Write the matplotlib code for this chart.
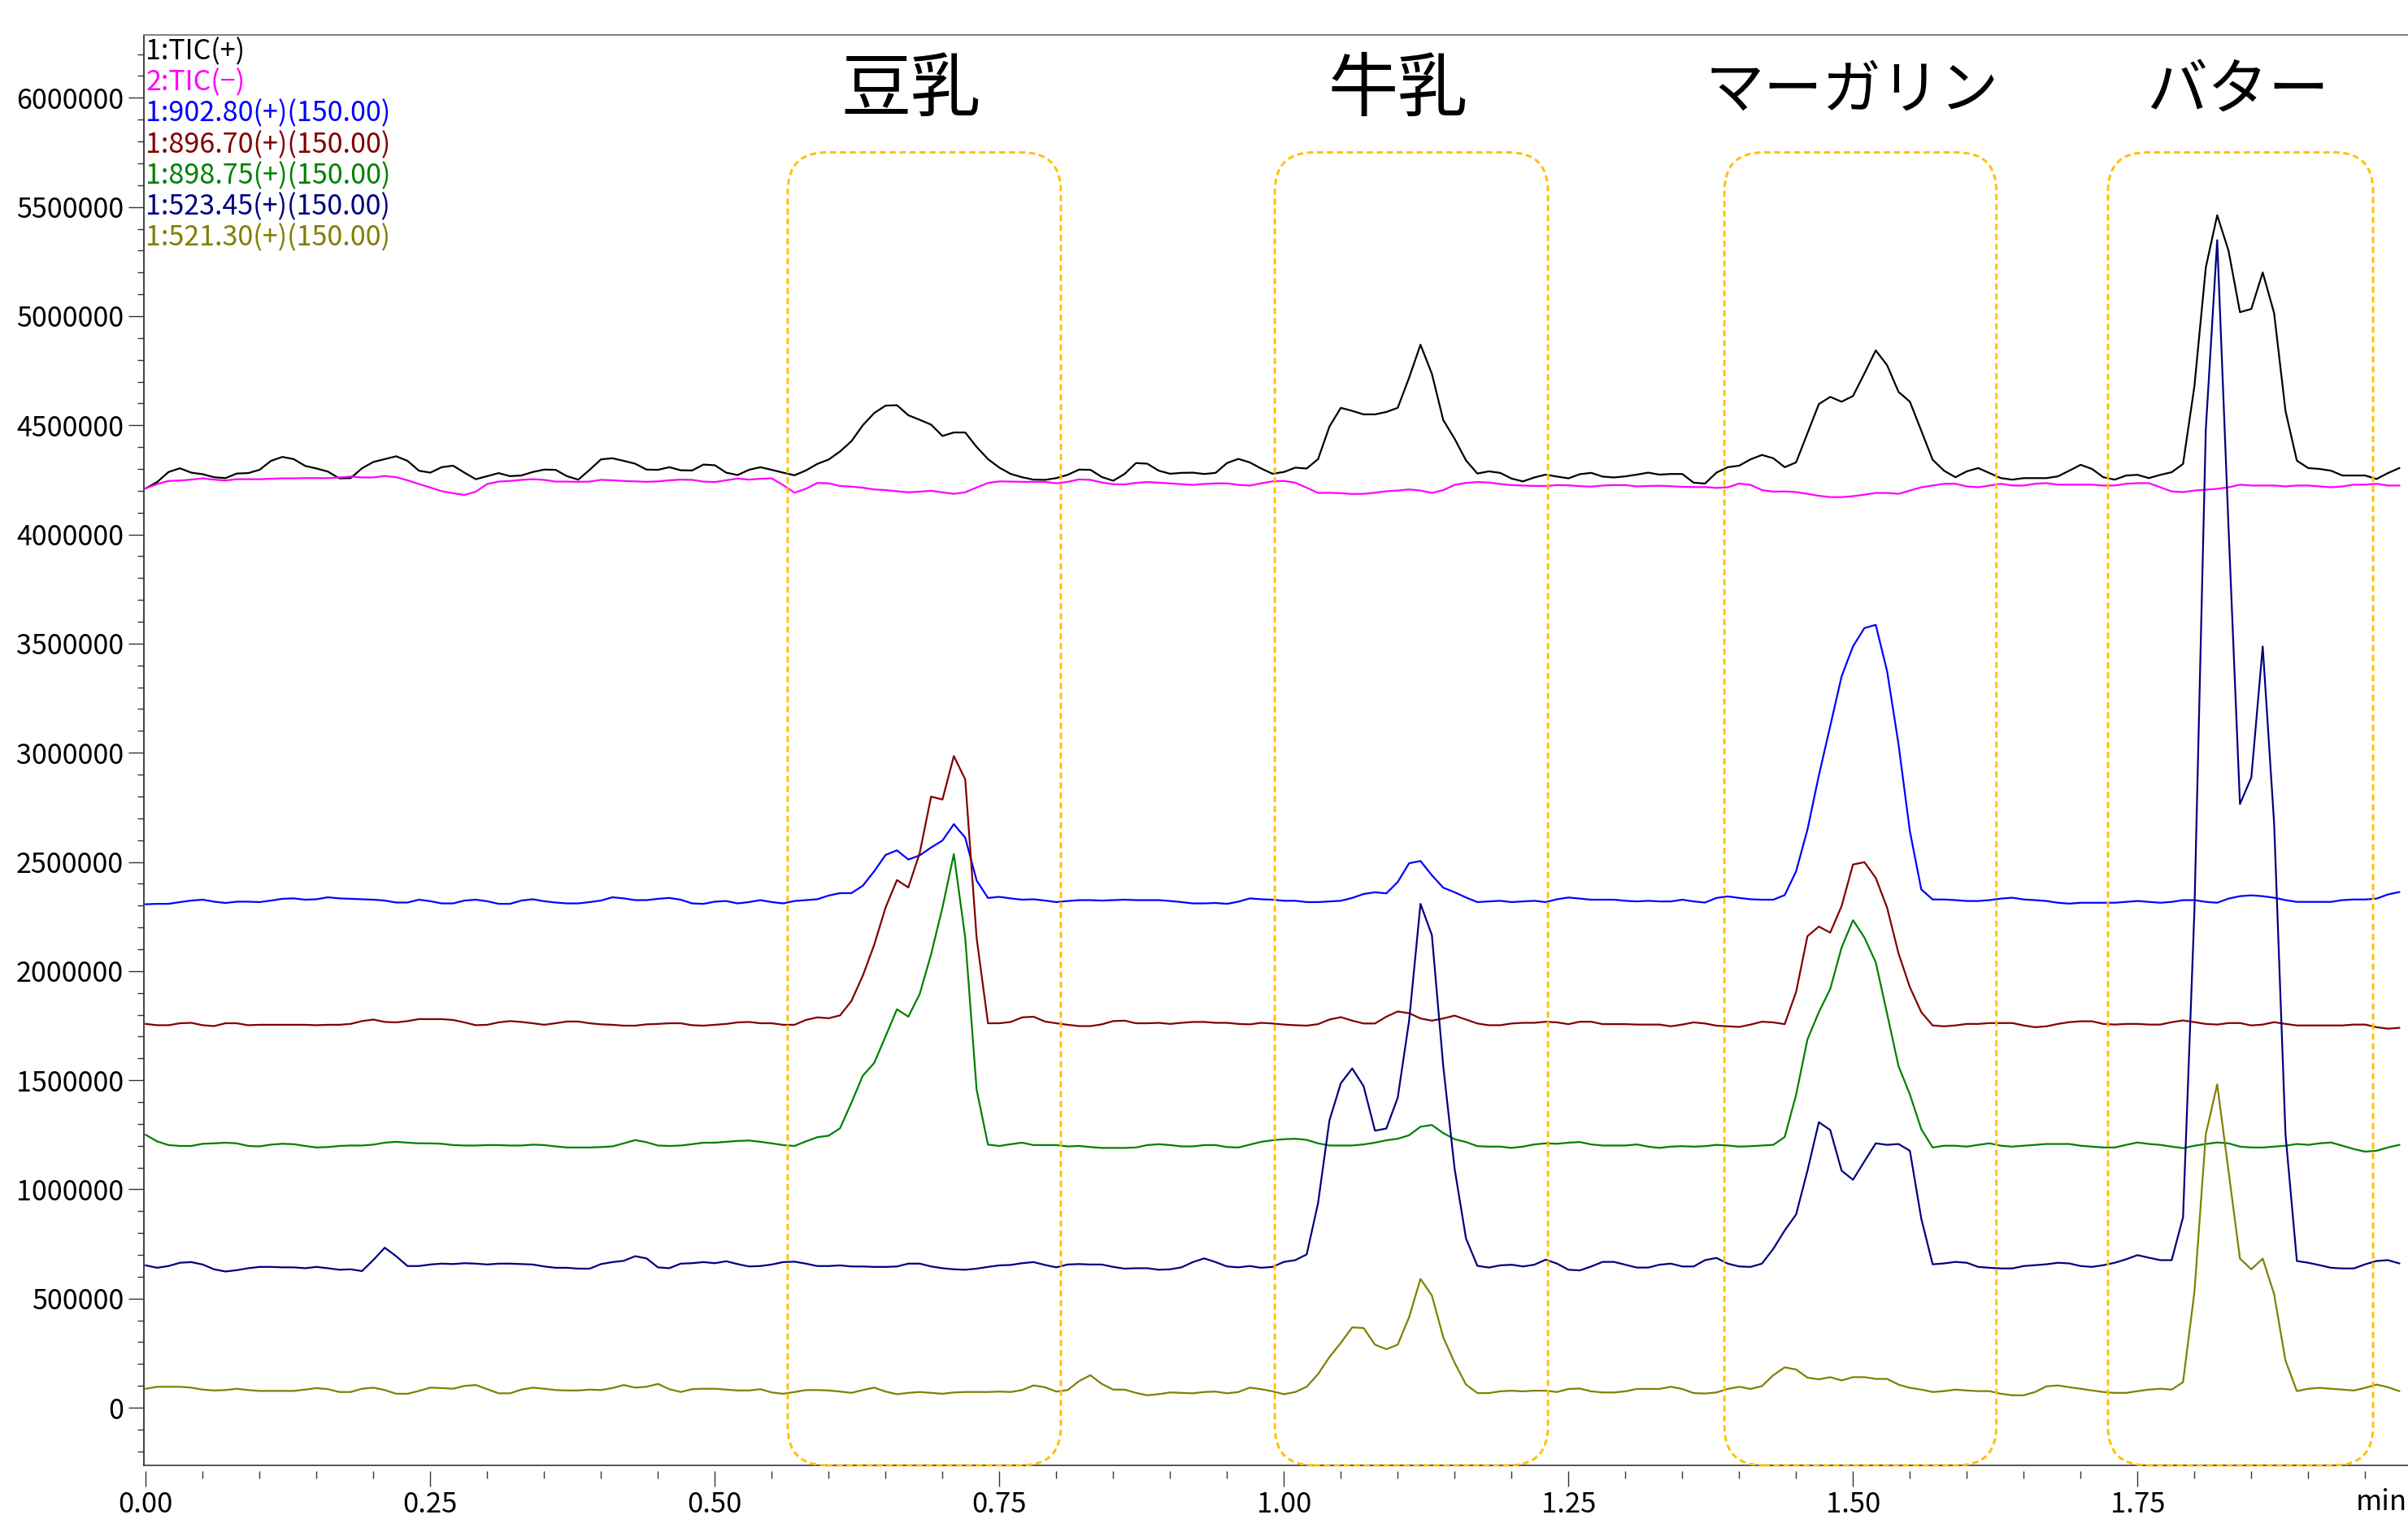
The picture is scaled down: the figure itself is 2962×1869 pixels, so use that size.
import numpy as np
import matplotlib
matplotlib.use("Agg")
import matplotlib.pyplot as plt
import matplotlib.transforms as mtransforms
from matplotlib.patches import FancyBboxPatch
from matplotlib.ticker import MultipleLocator, FormatStrFormatter

plt.rcParams['font.family'] = ['Noto Sans CJK JP', 'DejaVu Sans']

# one scan every 0.01 min
rt = np.arange(199) * 0.01

# intensities, in thousands
tic_pos = [4211,4240,4286,4303,4283,4276,4262,4258,4279,4281,4296,4337,4355,4345,4314,4302,4288,4257,4258,4303,
           4332,4345,4358,4337,4292,4283,4308,4315,4283,4253,4267,4281,4267,4270,4286,4297,4296,4267,4251,4296,
           4344,4349,4337,4324,4297,4296,4308,4294,4293,4320,4317,4283,4272,4296,4308,4296,4283,4271,4293,4323,
           4343,4380,4427,4500,4556,4590,
           4592,4546,4525,4503,4451,4467,4467,4401,4345,4306,4277,4262,4251,4250,4258,4273,4297,4296,4263,4246,
           4277,4327,4324,4292,4278,4282,4283,4277,4282,4327,4346,4330,4302,4278,4286,4306,4302,4345,4494,4580,
           4566,4550,4550,4561,4580,4718,4869,4736,4524,4438,4339,4279,4289,4282,4256,4243,4261,4274,4265,4257,
           4276,4282,4265,4261,4266,4274,
           4283,4274,4277,4277,4237,4233,4283,4308,4315,4344,4364,4349,4308,4330,4463,4597,
           4630,4608,4634,4737,4843,4775,4653,4608,4475,4342,4292,4262,4289,4304,4281,4258,4251,4258,4258,4258,
           4266,4292,4319,4300,4262,4251,4270,4273,4258,4273,4285,4323,4680,5223,5462,5299,5018,5033,5200,5014,
           4566,4338,4304,4300,4292,4270,4270,4270,4254,4281,4304]

tic_neg = [4211,4231,4245,4247,4251,4257,4251,4247,4253,4253,4253,4255,4257,4257,4258,4258,4258,4261,4265,4261,
           4261,4268,4262,4248,4231,4215,4198,4189,4181,4196,4231,4242,4245,4250,4253,4250,4242,4242,4241,4242,
           4250,4248,4245,4243,4241,4243,4248,4251,4250,4242,4240,4248,4256,4251,4255,4257,4226,4191,4209,4236,
           4234,4222,4219,4214,4206,4203,
           4198,4193,4196,4200,4193,4186,4193,4215,4236,4243,4242,4241,4241,4241,4234,4241,4252,4250,4238,4230,
           4229,4236,4240,4237,4234,4230,4227,4231,4234,4234,4227,4224,4234,4243,4245,4237,4214,4190,4191,4189,
           4185,4186,4191,4198,4201,4206,4201,4190,4203,4227,4236,4240,4238,4231,4226,4224,4222,4222,4226,4225,
           4221,4219,4224,4226,4226,4220,
           4222,4223,4221,4218,4217,4217,4213,4216,4233,4227,4203,4196,4197,4194,4186,4177,
           4171,4171,4175,4182,4190,4190,4186,4201,4216,4224,4232,4232,4220,4216,4224,4232,4224,4224,4232,4235,
           4228,4228,4228,4228,4224,4224,4232,4235,4235,4216,4197,4194,4201,4205,4209,4216,4228,4224,4224,4224,
           4220,4224,4224,4220,4216,4220,4228,4228,4232,4224,4224]

mz_902 = [2306,2308,2308,2316,2323,2327,2318,2312,2318,2318,2316,2323,2331,2333,2327,2329,2338,2333,2331,2329,
          2327,2323,2314,2314,2327,2320,2310,2310,2323,2327,2320,2308,2308,2323,2329,2320,2314,2310,2310,2316,
          2323,2338,2333,2325,2325,2331,2335,2327,2310,2308,
          2318,2321,2310,2316,2325,2316,2310,2321,2325,2329,2346,2357,2357,2391,2457,2532,2553,2511,2530,2566,
          2598,2673,2611,2415,2335,2340,2333,2327,2329,2323,2316,2321,2325,2325,2323,2325,2327,2325,2325,2325,
          2321,2316,2310,2310,2312,2308,2318,2333,2329,
          2327,2322,2322,2316,2316,2319,2322,2335,2353,2361,2356,2408,2494,2504,2439,2382,2361,2337,2316,2319,
          2322,2316,2319,2322,2316,2329,2337,2332,2327,2327,2327,2322,2319,2322,2319,2319,2327,2319,2314,2335,
          2342,2335,2329,2327,2327,2348,2457,2648,2896,
          3122,3350,3487,3571,3586,3373,3039,2640,2374,2328,2328,2325,2321,2321,2325,2332,2336,2328,2325,2321,
          2313,2309,2313,2313,2313,2313,2317,2321,2317,2313,2317,2325,2325,2317,2313,2332,2343,2347,2343,2336,
          2325,2317,2317,2317,2317,2325,2328,2328,2332,2351,2362]

mz_896 = [1758,1752,1752,1761,1763,1752,1748,1761,1761,1752,1754,1754,1754,1754,1754,1752,1754,1754,1758,1771,
          1778,1767,1765,1771,1780,1780,1780,1776,1765,1752,1754,1765,1771,1767,1761,1754,1761,1769,1769,1761,
          1756,1754,1750,1750,1756,1758,1761,1761,1752,1750,
          1754,1758,1765,1767,1761,1761,1754,1754,1776,1788,1784,1797,1863,1979,2120,2291,2417,2383,2541,2799,
          2786,2985,2878,2152,1761,1761,1767,1788,1791,1769,1761,1754,1748,1748,1756,1771,1773,1761,1761,1763,
          1758,1763,1767,1767,1763,1763,1758,1756,1763,
          1760,1755,1752,1750,1757,1778,1789,1773,1760,1760,1791,1815,1807,1783,1773,1783,1796,1778,1760,1752,
          1752,1760,1763,1763,1768,1765,1757,1768,1768,1757,1757,1757,1755,1755,1755,1747,1755,1765,1760,1750,
          1747,1744,1755,1768,1765,1757,1904,2160,2204,
          2176,2298,2488,2499,2427,2290,2081,1926,1812,1751,1747,1751,1758,1758,1762,1762,1762,1751,1743,1747,
          1758,1766,1770,1770,1758,1755,1758,1758,1755,1755,1766,1774,1766,1758,1755,1762,1762,1751,1755,1766,
          1758,1751,1751,1751,1751,1751,1755,1755,1743,1736,1740]

mz_898 = [1250,1220,1203,1199,1199,1209,1211,1214,1211,1199,1197,1205,1209,1207,1199,1192,1194,1199,1201,1201,
          1205,1214,1218,1214,1211,1211,1209,1203,1201,1201,1203,1203,1201,1201,1205,1203,1197,1192,1192,1192,
          1194,1197,1211,1226,1216,1201,1199,1201,1207,1214,
          1214,1218,1222,1224,1218,1211,1203,1199,1220,1239,1246,1280,1397,1521,1579,1701,1825,1791,1895,2077,
          2291,2536,2152,1457,1205,1199,1207,1214,1203,1203,1203,1197,1199,1194,1190,1190,1190,1192,1203,1207,
          1203,1197,1197,1203,1203,1194,1192,1205,1218,
          1225,1230,1232,1227,1211,1201,1201,1201,1206,1214,1225,1232,1248,1287,1295,1258,1230,1217,1198,1196,
          1196,1190,1196,1206,1211,1209,1214,1217,1206,1201,1201,1201,1206,1196,1190,1196,1198,1196,1198,1204,
          1201,1196,1198,1201,1204,1240,1433,1687,1812,
          1918,2108,2233,2154,2040,1804,1565,1435,1276,1192,1200,1200,1196,1204,1211,1200,1196,1200,1204,1208,
          1208,1208,1200,1196,1192,1192,1204,1215,1208,1204,1196,1189,1200,1208,1215,1211,1196,1192,1192,1196,
          1200,1208,1204,1211,1215,1200,1185,1173,1177,1192,1204]

mz_523 = [652,641,649,664,667,656,634,624,630,639,645,645,643,643,639,645,639,632,634,626,
          677,733,694,649,649,656,660,658,662,660,656,660,660,658,656,647,641,641,637,637,
          658,667,673,694,684,643,639,660,662,667,
          662,671,658,647,649,656,667,669,660,649,649,652,647,647,645,645,647,660,660,647,
          639,634,632,637,645,652,654,662,667,654,643,656,658,656,656,645,637,639,639,632,
          634,643,667,684,667,647,643,649,641,
          645,668,676,702,937,1316,1486,1554,1473,1269,1279,1420,1773,2308,2165,1564,1094,775,650,642,
          652,655,647,655,678,660,632,629,647,668,668,655,642,642,655,660,647,647,676,686,
          660,647,645,660,728,812,885,1086,1308,
          1272,1086,1044,1128,1211,1204,1208,1177,866,657,661,668,664,645,641,638,638,649,653,657,
          664,661,649,645,653,664,680,699,687,676,676,873,2279,4482,5348,4026,2765,2887,3487,2678,
          1253,672,664,653,641,638,638,657,672,676,661]

mz_521 = [87,96,96,96,92,83,79,81,87,81,77,77,77,77,83,90,85,72,72,87,
          92,81,64,64,77,92,90,87,100,104,85,66,66,83,92,87,81,79,79,83,
          81,90,104,92,96,109,85,72,85,87,
          87,83,79,79,85,70,64,72,81,81,79,74,68,81,92,74,62,68,72,68,
          64,70,72,72,72,74,72,81,102,94,74,81,122,149,109,83,83,68,57,62,
          70,68,66,72,74,66,72,92,85,
          75,62,72,96,154,232,297,368,365,289,268,289,415,590,514,323,206,106,67,67,
          75,78,75,78,78,72,86,88,75,70,70,75,86,86,86,96,86,67,65,70,
          86,96,86,99,149,185,175,138,130,
          140,125,140,140,132,132,106,91,83,72,76,83,79,76,76,64,57,57,72,98,
          102,94,87,79,72,68,68,76,83,87,83,117,531,1253,1481,1082,683,634,683,520,
          216,76,87,91,87,83,79,91,106,94,76]

trace_names = ["1:TIC(+)", "2:TIC(\u2212)", "1:902.80(+)(150.00)", "1:896.70(+)(150.00)",
               "1:898.75(+)(150.00)", "1:523.45(+)(150.00)", "1:521.30(+)(150.00)"]
trace_colors = ["#000000", "#ff00ff", "#0000ff", "#800000", "#008000", "#000080", "#808000"]
traces = [tic_pos, tic_neg, mz_902, mz_896, mz_898, mz_523, mz_521]

# sample windows (min) and their titles
samples = ["豆乳", "牛乳", "マーガリン", "バター"]
win_start = [0.564, 0.992, 1.387, 1.724]
win_end = [0.804, 1.232, 1.626, 1.957]
win_top = 5750000
title_x = [0.672, 1.100, 1.499, 1.838]
title_size = [62, 62, 52, 54]

W, H = 2962, 1869
fig = plt.figure(figsize=(W / 100, H / 100), dpi=100)
ax_l, ax_r, ax_t, ax_b = 176.5, 176.5 + 2802.8, 42.7, 1803
ax = fig.add_axes([ax_l / W, 1 - ax_b / H, (ax_r - ax_l) / W, (ax_b - ax_t) / H])

xmin, xmax = -0.002, 2.0
ymin, ymax = -264000, 6289000
ax.set_xlim(xmin, xmax)
ax.set_ylim(ymin, ymax)

for name, col, y in zip(trace_names, trace_colors, traces):
    ax.plot(rt, np.array(y) * 1000, color=col, lw=1.6, zorder=3)

# axis look
ax.spines['right'].set_visible(False)
ax.spines['top'].set_color('#808080')
ax.spines['top'].set_linewidth(1.4)
ax.spines['left'].set_color('#333333')
ax.spines['left'].set_linewidth(1.3)
ax.spines['bottom'].set_position(('outward', 5))
ax.spines['bottom'].set_visible(False)
ax.plot([0, 1], [0, 0], transform=ax.transAxes, color='#555555', lw=1.4, clip_on=False, zorder=2)

ax.set_xticks(np.arange(0, 1.76, 0.25))
ax.xaxis.set_minor_locator(MultipleLocator(0.05))
ax.xaxis.set_major_formatter(FormatStrFormatter('%.2f'))
ax.yaxis.set_major_locator(MultipleLocator(500000))
ax.yaxis.set_minor_locator(MultipleLocator(100000))
ax.yaxis.set_major_formatter(FormatStrFormatter('%d'))

ax.tick_params(axis='x', which='major', length=14, width=1.0, pad=3, labelsize=25, color='#333333')
ax.tick_params(axis='x', which='minor', length=6.5, width=1.0, color='#333333')
ax.tick_params(axis='y', which='major', length=13.5, width=1.0, pad=4, labelsize=24.5, color='#333333')
ax.tick_params(axis='y', which='minor', length=6, width=1.0, color='#333333')

trans = mtransforms.blended_transform_factory(ax.transData, ax.transAxes)
ax.text(1.942, -0.0258, "min", transform=trans, ha='left', va='center', fontsize=25)

# trace names in the top left corner
h_px = ax_b - ax_t
for i, (name, col) in enumerate(zip(trace_names, trace_colors)):
    yc = (ax_b - (63.5 + 38.3 * i)) / h_px
    ax.text(0.001, yc, name, color=col, transform=ax.transAxes, ha='left', va='center', fontsize=24.5)

# dashed rounded windows
x_per_px = (xmax - xmin) / (ax_r - ax_l)
y_per_px = (ymax - ymin) / h_px
aspect = y_per_px / x_per_px
r = 48 * x_per_px
for x0, x1 in zip(win_start, win_end):
    box = FancyBboxPatch((x0, ymin), x1 - x0, win_top - ymin,
                         boxstyle="round,pad=0,rounding_size=%f" % r,
                         mutation_aspect=aspect, fill=False, ec='#ffc000', lw=2.1,
                         ls=(0, (2.6, 1.6)), clip_on=False, zorder=5)
    ax.add_patch(box)

for s, x, fs in zip(samples, title_x, title_size):
    ax.text(x, (ax_b - 112) / h_px, s, transform=trans, ha='center', va='center', fontsize=fs)

fig.savefig("out.png", dpi=100)
